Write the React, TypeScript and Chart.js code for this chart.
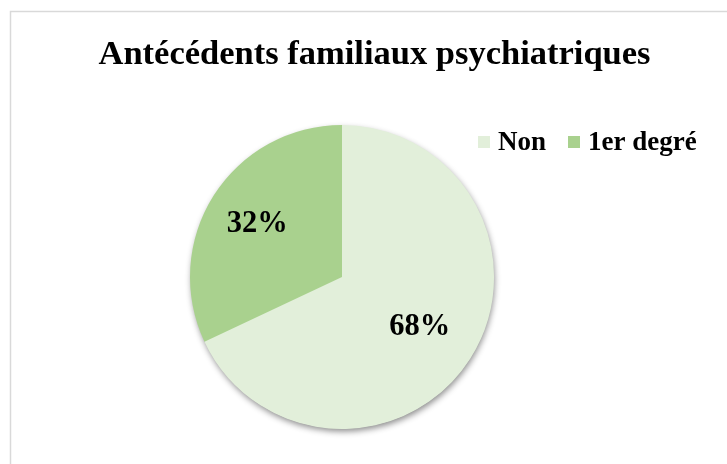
import React, { useEffect, useRef } from "react";
import { Chart, registerables } from "chart.js";

Chart.register(...registerables);

const TITLE = "Antécédents familiaux psychiatriques";
const categories = ["Non", "1er degré"];
const values = [68, 32];
const colors = ["#E2EFDA", "#A9D18E"];

const SERIF = "'Liberation Serif', 'Times New Roman', serif";

const framePlugin = {
  id: "frame",
  beforeDraw(chart: any) {
    const ctx = chart.ctx;
    ctx.save();
    ctx.fillStyle = "#ffffff";
    ctx.fillRect(0, 0, chart.width, chart.height);
    ctx.strokeStyle = "#D9D9D9";
    ctx.lineWidth = 1.5;
    ctx.beginPath();
    ctx.moveTo(10.5, chart.height + 5);
    ctx.lineTo(10.5, 11.5);
    ctx.lineTo(chart.width + 5, 11.5);
    ctx.stroke();
    // title
    ctx.fillStyle = "#000000";
    ctx.font = `bold 34.5px ${SERIF}`;
    ctx.textAlign = "center";
    ctx.textBaseline = "alphabetic";
    ctx.fillText(TITLE, 374.5, 64);
    ctx.restore();
  },
  beforeDatasetsDraw(chart: any) {
    const meta = chart.getDatasetMeta(0);
    const arc = meta.data[0];
    if (!arc) return;
    const ctx = chart.ctx;
    ctx.save();
    ctx.shadowColor = "rgba(0,0,0,0.45)";
    ctx.shadowBlur = 6;
    ctx.shadowOffsetX = 1;
    ctx.shadowOffsetY = 3;
    ctx.fillStyle = colors[0];
    ctx.beginPath();
    ctx.arc(arc.x, arc.y, arc.outerRadius - 0.5, 0, Math.PI * 2);
    ctx.fill();
    ctx.restore();
  },
  afterDatasetsDraw(chart: any) {
    const ctx = chart.ctx;
    const meta = chart.getDatasetMeta(0);
    const total = values.reduce((a, b) => a + b, 0);
    const factors = [0.605, 0.66];
    ctx.save();
    ctx.fillStyle = "#000000";
    ctx.font = `bold 30.5px ${SERIF}`;
    ctx.textAlign = "center";
    ctx.textBaseline = "middle";
    meta.data.forEach((el: any, i: number) => {
      const mid = (el.startAngle + el.endAngle) / 2;
      const r = el.outerRadius * factors[i];
      const x = el.x + Math.cos(mid) * r;
      const y = el.y + Math.sin(mid) * r;
      ctx.fillText(Math.round((values[i] / total) * 100) + "%", x, y + 1);
    });
    // legend
    ctx.font = `bold 27px ${SERIF}`;
    ctx.textAlign = "left";
    const legendX = [478, 568];
    categories.forEach((c, i) => {
      ctx.fillStyle = colors[i];
      ctx.fillRect(legendX[i], 136, 12, 12);
      ctx.fillStyle = "#000000";
      ctx.fillText(c, legendX[i] + 20, 143);
    });
    ctx.restore();
  },
};

export default function App() {
  const ref = useRef<HTMLCanvasElement | null>(null);
  useEffect(() => {
    document.body.style.margin = "0";
    const canvas = ref.current!;
    const chart = new Chart(canvas, {
      type: "pie",
      data: {
        labels: categories,
        datasets: [
          {
            data: values,
            backgroundColor: colors,
            borderWidth: 0,
          },
        ],
      },
      options: {
        responsive: false,
        animation: false,
        layout: { padding: { left: 190, right: 233, top: 125, bottom: 35 } },
        plugins: {
          legend: { display: false },
          title: { display: false },
          tooltip: { enabled: false },
        },
      },
      plugins: [framePlugin],
    });
    return () => chart.destroy();
  }, []);
  return (
    <div style={{ position: "absolute", left: 0, top: 0, width: 727, height: 464 }}>
      <canvas ref={ref} width={727} height={464} style={{ display: "block" }} />
    </div>
  );
}
